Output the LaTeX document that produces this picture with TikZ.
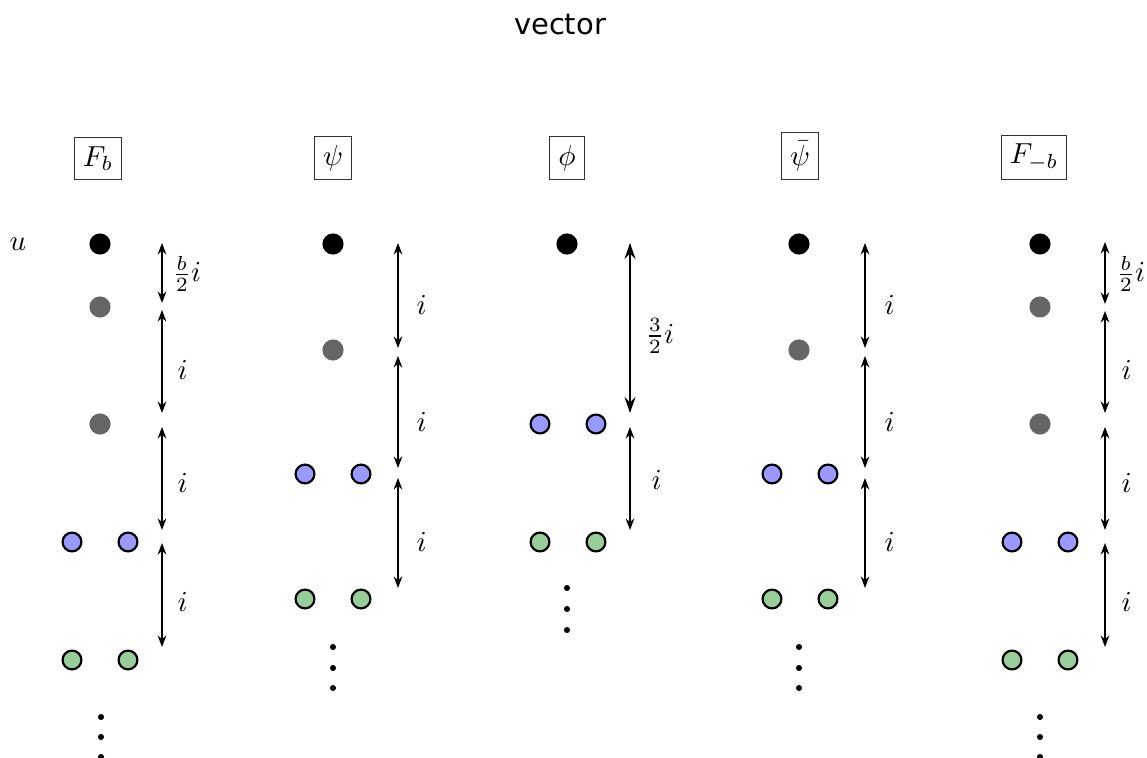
\documentclass[tikz,border=0pt]{standalone}
\usepackage{fontspec}
\newfontfamily\titlefont{DejaVu Sans}
\usetikzlibrary{arrows.meta}

\definecolor{dotgray}{RGB}{102,102,102}
\definecolor{dotblue}{RGB}{153,153,255}
\definecolor{dotgreen}{RGB}{152,204,152}

\tikzset{
  bdot/.style={circle, fill=black, inner sep=0pt, minimum size=7.3pt},
  gdot/.style={circle, fill=dotgray, inner sep=0pt, minimum size=7.3pt},
  udot/.style={circle, draw=black, line width=0.75pt, fill=dotblue, inner sep=0pt, minimum size=6.5pt},
  vdot/.style={circle, draw=black, line width=0.75pt, fill=dotgreen, inner sep=0pt, minimum size=6.5pt},
  edot/.style={circle, fill=black, inner sep=0pt, minimum size=2.1pt},
  fieldbox/.style={draw=black!80, line width=0.4pt, inner sep=3pt, anchor=south},
  gaparrow/.style={line width=0.4pt,
    {Stealth[length=4pt,width=3pt]}-{Stealth[length=4pt,width=3pt]}},
  biggap/.style={line width=0.5pt,
    {Stealth[length=5.5pt,width=3.8pt]}-{Stealth[length=5.5pt,width=3.8pt]}},
  gaplabel/.style={anchor=west, inner sep=0pt},
}

% \gapmark{name}{x}{top y}{bottom y}{style}
\newcommand\gapmark[5]{%
  \coordinate (#1t) at (#2,#3);
  \coordinate (#1b) at (#2,#4);
  \draw[#5] (#1t) -- (#1b);}

\begin{document}
\begin{tikzpicture}[x=0.345pt,y=-0.345pt]
\useasboundingbox (0,0) rectangle (1147,758);

\node[anchor=base, inner sep=0pt] (title) at (560,35) {\titlefont vector};

% column headers
\node[fieldbox] (hFb)  at (98,180)   {$F_b$};
\node[fieldbox] (hpsi) at (333,180)  {$\psi$};
\node[fieldbox] (hphi) at (567,180)  {$\phi$};
\node[fieldbox] (hpsb) at (800,180)  {$\bar\psi$};
\node[fieldbox] (hFmb) at (1034,180) {$F_{-b}$};

\node (ulab) at (18,244) {$u$};

% ---- F_b column
\node[bdot] (fb0) at (100,244) {};
\node[gdot] (fb1) at (100,307) {};
\node[gdot] (fb2) at (100,424) {};
\node[udot] (fb3a) at (72,542) {};
\node[udot] (fb3b) at (128,542) {};
\node[vdot] (fb4a) at (72,660) {};
\node[vdot] (fb4b) at (128,660) {};
\node[edot] (fbe1) at (101,717) {};
\node[edot] (fbe2) at (101,737) {};
\node[edot] (fbe3) at (101,757) {};
\gapmark{fbg1}{162}{243}{303}{gaparrow}
\gapmark{fbg2}{162}{310}{413}{gaparrow}
\gapmark{fbg3}{162}{427}{530}{gaparrow}
\gapmark{fbg4}{162}{543}{647}{gaparrow}
\node[gaplabel] (fbl1) at (172,274) {$\frac{b}{2}i$};
\node[gaplabel] (fbl2) at (177,370) {$i$};
\node[gaplabel] (fbl3) at (177,483) {$i$};
\node[gaplabel] (fbl4) at (177,602) {$i$};

% ---- psi column
\node[bdot] (ps0) at (333,244) {};
\node[gdot] (ps1) at (333,350) {};
\node[udot] (ps2a) at (305,474) {};
\node[udot] (ps2b) at (361,474) {};
\node[vdot] (ps3a) at (305,599) {};
\node[vdot] (ps3b) at (361,599) {};
\node[edot] (pse1) at (333,647) {};
\node[edot] (pse2) at (333,668) {};
\node[edot] (pse3) at (333,688) {};
\gapmark{psg1}{398}{243}{348}{gaparrow}
\gapmark{psg2}{398}{356}{468}{gaparrow}
\gapmark{psg3}{398}{478}{588}{gaparrow}
\node[gaplabel] (psl1) at (416,305) {$i$};
\node[gaplabel] (psl2) at (416,422) {$i$};
\node[gaplabel] (psl3) at (416,542) {$i$};

% ---- phi column
\node[bdot] (ph0) at (567,244) {};
\node[udot] (ph1a) at (540,424) {};
\node[udot] (ph1b) at (596,424) {};
\node[vdot] (ph2a) at (540,542) {};
\node[vdot] (ph2b) at (596,542) {};
\node[edot] (phe1) at (567,588) {};
\node[edot] (phe2) at (567,609) {};
\node[edot] (phe3) at (567,630) {};
\gapmark{phg1}{630}{243}{413}{biggap}
\gapmark{phg2}{630}{427}{530}{gaparrow}
\node[gaplabel] (phl1) at (645,336) {$\frac{3}{2}i$};
\node[gaplabel] (phl2) at (651,480) {$i$};

% ---- psi-bar column
\node[bdot] (pb0) at (799,244) {};
\node[gdot] (pb1) at (799,350) {};
\node[udot] (pb2a) at (772,474) {};
\node[udot] (pb2b) at (828,474) {};
\node[vdot] (pb3a) at (772,599) {};
\node[vdot] (pb3b) at (828,599) {};
\node[edot] (pbe1) at (799,647) {};
\node[edot] (pbe2) at (799,668) {};
\node[edot] (pbe3) at (799,688) {};
\gapmark{pbg1}{865}{243}{348}{gaparrow}
\gapmark{pbg2}{865}{356}{468}{gaparrow}
\gapmark{pbg3}{865}{478}{588}{gaparrow}
\node[gaplabel] (pbl1) at (884,305) {$i$};
\node[gaplabel] (pbl2) at (884,422) {$i$};
\node[gaplabel] (pbl3) at (884,542) {$i$};

% ---- F_{-b} column
\node[bdot] (fm0) at (1040,244) {};
\node[gdot] (fm1) at (1040,307) {};
\node[gdot] (fm2) at (1040,424) {};
\node[udot] (fm3a) at (1012,542) {};
\node[udot] (fm3b) at (1068,542) {};
\node[vdot] (fm4a) at (1012,660) {};
\node[vdot] (fm4b) at (1068,660) {};
\node[edot] (fme1) at (1040,717) {};
\node[edot] (fme2) at (1040,737) {};
\node[edot] (fme3) at (1040,757) {};
\gapmark{fmg1}{1105}{242}{304}{gaparrow}
\gapmark{fmg2}{1105}{311}{413}{gaparrow}
\gapmark{fmg3}{1105}{427}{530}{gaparrow}
\gapmark{fmg4}{1105}{543}{647}{gaparrow}
\node[gaplabel] (fml1) at (1116,274) {$\frac{b}{2}i$};
\node[gaplabel] (fml2) at (1121,370) {$i$};
\node[gaplabel] (fml3) at (1121,483) {$i$};
\node[gaplabel] (fml4) at (1121,602) {$i$};
\end{tikzpicture}
\end{document}
